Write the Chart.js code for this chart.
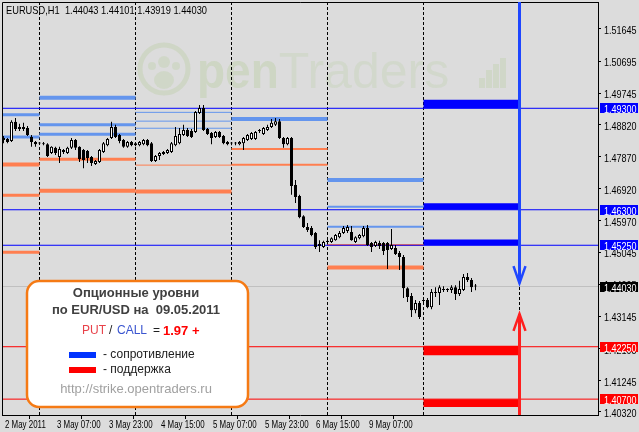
<!DOCTYPE html>
<html>
<head>
<meta charset="utf-8">
<script src="https://cdn.jsdelivr.net/npm/chart.js@4.4.1/dist/chart.umd.min.js"></script>
<style>
html, body { margin: 0; padding: 0; background: #dcdcdc; }
#wrap { width: 639px; height: 432px; }
</style>
</head>
<body>
<div id="wrap"><canvas id="chart" width="639" height="432"></canvas></div>
<script>
// EURUSD H1 candles, bar index 0 = first visible bar
const open = [1.4836,1.4839,1.4833,1.4890,1.4869,1.4875,1.4872,1.4845,1.4830,1.4827,
  1.4826,1.4824,1.4798,1.4813,1.4786,1.4801,1.4798,1.4813,1.4836,1.4816,
  1.4807,1.4804,1.4786,1.4765,1.4771,1.4801,1.4821,1.4842,1.4875,1.4851,
  1.4836,1.4816,1.4830,1.4821,1.4821,1.4824,1.4836,1.4827,1.4774,1.4789,
  1.4795,1.4798,1.4801,1.4821,1.4827,1.4851,1.4866,1.4863,1.4860,1.4916,
  1.4931,1.4869,1.4857,1.4845,1.4860,1.4848,1.4830,1.4827,1.4826,1.4824,
  1.4827,1.4836,1.4839,1.4839,1.4863,1.4854,1.4866,1.4875,1.4881,1.4892,
  1.4842,1.4824,1.4842,1.4703,1.4671,1.4611,1.4579,1.4576,1.4561,1.4529,
  1.4520,1.4535,1.4535,1.4540,1.4549,1.4561,1.4567,1.4564,1.4535,1.4546,
  1.4552,1.4576,1.4532,1.4523,1.4532,1.4532,1.4532,1.4514,1.4517,1.4502,
  1.4490,1.4398,1.4375,1.4333,1.4354,1.4363,1.4363,1.4342,1.4387,1.4384,
  1.4396,1.4393,1.4393,1.4401,1.4381,1.4393,1.4431,1.4422,1.44043];
const high = [1.4848,1.4842,1.4895,1.4901,1.4884,1.4887,1.4878,1.4851,1.4833,1.4830,
  1.4830,1.4827,1.4818,1.4816,1.4816,1.4810,1.4816,1.4842,1.4839,1.4818,
  1.4810,1.4807,1.4789,1.4777,1.4810,1.4830,1.4842,1.4890,1.4881,1.4854,
  1.4839,1.4833,1.4833,1.4830,1.4833,1.4839,1.4839,1.4830,1.4792,1.4801,
  1.4804,1.4810,1.4830,1.4875,1.4872,1.4881,1.4872,1.4869,1.4922,1.4940,
  1.4940,1.4872,1.4860,1.4863,1.4863,1.4851,1.4833,1.4830,1.4830,1.4833,
  1.4845,1.4854,1.4860,1.4863,1.4869,1.4875,1.4881,1.4898,1.4901,1.4898,
  1.4845,1.4845,1.4845,1.4718,1.4674,1.4614,1.4591,1.4582,1.4564,1.4540,
  1.4538,1.4543,1.4549,1.4558,1.4567,1.4582,1.4585,1.4582,1.4552,1.4558,
  1.4582,1.4585,1.4535,1.4538,1.4538,1.4535,1.4535,1.4573,1.4526,1.4508,
  1.4496,1.4401,1.4384,1.4363,1.4360,1.4372,1.4369,1.4396,1.4401,1.4407,
  1.4404,1.4398,1.4407,1.4407,1.4420,1.4440,1.4443,1.4428,1.44101];
const low = [1.4827,1.4827,1.4830,1.4863,1.4863,1.4863,1.4848,1.4816,1.4816,1.4824,
  1.4821,1.4786,1.4795,1.4792,1.4768,1.4795,1.4795,1.4810,1.4807,1.4771,
  1.4753,1.4768,1.4759,1.4762,1.4768,1.4798,1.4818,1.4839,1.4842,1.4827,
  1.4813,1.4813,1.4818,1.4818,1.4818,1.4821,1.4818,1.4771,1.4771,1.4777,
  1.4792,1.4795,1.4798,1.4818,1.4824,1.4848,1.4845,1.4842,1.4857,1.4913,
  1.4863,1.4851,1.4824,1.4842,1.4842,1.4824,1.4821,1.4821,1.4821,1.4821,
  1.4807,1.4833,1.4836,1.4836,1.4857,1.4851,1.4863,1.4872,1.4878,1.4839,
  1.4813,1.4821,1.4674,1.4650,1.4605,1.4576,1.4564,1.4552,1.4514,1.4505,
  1.4517,1.4529,1.4532,1.4538,1.4546,1.4558,1.4561,1.4538,1.4532,1.4543,
  1.4549,1.4523,1.4505,1.4520,1.4514,1.4496,1.4455,1.4511,1.4496,1.4452,
  1.4369,1.4357,1.4313,1.4324,1.4307,1.4354,1.4339,1.4336,1.4372,1.4348,
  1.4387,1.4387,1.4384,1.4363,1.4375,1.4390,1.4416,1.4387,1.43919];
const close = [1.4842,1.4830,1.4890,1.4869,1.4875,1.4869,1.4851,1.4830,1.4824,1.4826,
  1.4824,1.4789,1.4816,1.4798,1.4810,1.4807,1.4813,1.4836,1.4813,1.4780,
  1.4777,1.4783,1.4768,1.4774,1.4807,1.4827,1.4839,1.4875,1.4845,1.4833,
  1.4816,1.4830,1.4821,1.4827,1.4830,1.4836,1.4821,1.4774,1.4789,1.4798,
  1.4801,1.4807,1.4827,1.4848,1.4854,1.4866,1.4848,1.4845,1.4919,1.4931,
  1.4866,1.4854,1.4842,1.4860,1.4845,1.4827,1.4824,1.4826,1.4827,1.4830,
  1.4842,1.4851,1.4857,1.4860,1.4866,1.4872,1.4875,1.4887,1.4892,1.4842,
  1.4824,1.4842,1.4700,1.4668,1.4608,1.4579,1.4570,1.4555,1.4520,1.4523,
  1.4535,1.4538,1.4546,1.4555,1.4561,1.4576,1.4579,1.4540,1.4549,1.4555,
  1.4576,1.4526,1.4520,1.4535,1.4523,1.4508,1.4511,1.4526,1.4499,1.4490,
  1.4398,1.4372,1.4333,1.4354,1.4313,1.4360,1.4342,1.4387,1.4384,1.4401,
  1.4393,1.4396,1.4401,1.4381,1.4396,1.4431,1.4422,1.4401,1.44030];

// bar index where each trading day starts (dotted separators)
const dayStart = [9, 33, 57, 81, 105, 129];

// option levels per day: CALL (resistance) and PUT (support), with relative open interest
const callLevels = [[1.4911, 1.4845], [1.4961, 1.4881, 1.4853], [1.4918, 1.4892, 1.4871], [1.4898], [1.4718, 1.4639, 1.4580]];
const callOI     = [[3, 3], [4, 3, 3], [1, 1, 1], [4], [4, 2, 2]];
const putLevels  = [[1.4764, 1.4673, 1.4504], [1.4779, 1.4686], [1.4762, 1.4684], [1.4810, 1.4763], [1.4526, 1.4459]];
const putOI      = [[4, 3, 3], [3, 4], [1, 4], [2, 2], [2, 4]];

// levels for 09.05.2011
const callBands = [[1.4930, 1.4955], [1.4630, 1.4649], [1.4525, 1.4542]];
const putBands  = [[1.4200, 1.4228], [1.4047, 1.4070]];
const keyCall = [1.4930, 1.4630, 1.4525];
const keyPut  = [1.4225, 1.4070];
const lastBid = 1.4403;
const callArrowTip = 1.4413;
const putArrowTip  = 1.4322;

const yTicks = [1.51645, 1.50695, 1.49745, 1.48820, 1.47870, 1.46920, 1.45970, 1.45045, 1.44095, 1.43145, 1.42195, 1.41245, 1.40320];
const timeTickBars = [0, 13, 26, 39, 52, 65, 78, 91];
const timeLabels = ['2 May 2011', '3 May 07:00', '3 May 23:00', '4 May 15:00', '5 May 07:00', '5 May 23:00', '6 May 15:00', '9 May 07:00'];
const header = 'EURUSD,H1  1.44043 1.44101 1.43919 1.44030';

const X_MIN = -0.375, X_MAX = 148.625;
const Y_MIN = 1.40231, Y_MAX = 1.52443;
const ARIAL = "'Liberation Sans', Arial, sans-serif";

const LIGHT_BLUE = '#6495ED';
const CORAL = '#FF7F50';

function dayRange(d) {
  return [d === 0 ? X_MIN : dayStart[d - 1], dayStart[d]];
}

const datasets = [];

datasets.push({
  type: 'bar',
  data: open.map((o, i) => ({ x: i, y: [o, close[i]] })),
  backgroundColor: open.map((o, i) => close[i] >= o ? '#ffffff' : '#000000'),
  borderColor: '#000000',
  borderWidth: 1,
  borderSkipped: false,
  inflateAmount: 0,
  barThickness: 3,
  minBarLength: 1,
  grouped: false,
  order: 0
});
datasets.push({
  type: 'bar',
  data: open.map((o, i) => ({ x: i, y: [low[i], high[i]] })),
  backgroundColor: '#000000',
  borderWidth: 0,
  inflateAmount: 0,
  barThickness: 1,
  grouped: false,
  order: 1
});

function levelSets(levels, oi, color) {
  levels.forEach((arr, d) => {
    const [a, b] = dayRange(d);
    arr.forEach((v, j) => {
      datasets.push({
        type: 'line',
        data: [{ x: a, y: v }, { x: b, y: v }],
        borderColor: color,
        borderWidth: oi[d][j],
        pointRadius: 0,
        order: 3
      });
    });
  });
}
levelSets(callLevels, callOI, LIGHT_BLUE);
levelSets(putLevels, putOI, CORAL);

const [fa, fb] = dayRange(5);
datasets.push({
  type: 'bar',
  data: callBands.map(b => ({ x: (fa + fb) / 2, y: b })),
  backgroundColor: '#0000FF',
  barThickness: 96,
  inflateAmount: 0,
  grouped: false,
  order: 3
});
datasets.push({
  type: 'bar',
  data: putBands.map(b => ({ x: (fa + fb) / 2, y: b })),
  backgroundColor: '#FF0000',
  barThickness: 96,
  inflateAmount: 0,
  grouped: false,
  order: 3
});

function fullLine(v, color) {
  datasets.push({
    type: 'line',
    data: [{ x: X_MIN, y: v }, { x: X_MAX, y: v }],
    borderColor: color,
    borderWidth: 1,
    pointRadius: 0,
    order: 2
  });
}
keyCall.forEach(v => fullLine(v, '#0000FF'));
keyPut.forEach(v => fullLine(v, '#FF0000'));
fullLine(lastBid, '#C0C0C0');

function roundRect(ctx, x, y, w, h, r) {
  ctx.beginPath();
  ctx.moveTo(x + r, y);
  ctx.arcTo(x + w, y, x + w, y + h, r);
  ctx.arcTo(x + w, y + h, x, y + h, r);
  ctx.arcTo(x, y + h, x, y, r);
  ctx.arcTo(x, y, x + w, y, r);
  ctx.closePath();
}

// terminal-style narrow text
function narrowText(ctx, txt, x, y, sx) {
  ctx.save();
  ctx.translate(x, y);
  ctx.scale(sx, 1);
  ctx.fillText(txt, 0, 0);
  ctx.restore();
}

const mt4 = {
  id: 'mt4',
  beforeDatasetsDraw(chart) {
    const { ctx, chartArea: a, scales: { x } } = chart;
    ctx.save();
    // watermark
    ctx.fillStyle = 'rgba(150,190,100,0.16)';
    ctx.strokeStyle = 'rgba(150,190,100,0.18)';
    ctx.lineWidth = 5;
    ctx.beginPath(); ctx.arc(164, 69, 24, 0, Math.PI * 2); ctx.stroke();
    ctx.beginPath(); ctx.arc(164, 62, 6, 0, Math.PI * 2); ctx.fill();
    ctx.beginPath(); ctx.arc(152, 66, 4, 0, Math.PI * 2); ctx.fill();
    ctx.beginPath(); ctx.arc(176, 66, 4, 0, Math.PI * 2); ctx.fill();
    ctx.beginPath(); ctx.ellipse(164, 80, 10, 9, 0, 0, Math.PI * 2); ctx.fill();
    ctx.font = "bold 50px 'Liberation Sans', Arial, sans-serif";
    ctx.textBaseline = 'alphabetic';
    ctx.fillStyle = 'rgba(150,190,100,0.2)';
    narrowText(ctx, 'pen', 197, 88, 0.92);
    const w = ctx.measureText('pen').width * 0.92;
    ctx.font = "50px 'Liberation Sans', Arial, sans-serif";
    ctx.fillStyle = 'rgba(150,190,100,0.13)';
    ctx.fillText('Traders', 197 + w, 88);
    ctx.fillStyle = 'rgba(150,190,100,0.16)';
    [[479, 78], [486, 70], [493, 64], [500, 58]].forEach(([bx, by]) => ctx.fillRect(bx, by, 6, 88 - by));
    // day separators
    ctx.strokeStyle = '#000';
    ctx.lineWidth = 1;
    ctx.setLineDash([3, 2]);
    dayStart.forEach(k => {
      const px = Math.floor(x.getPixelForValue(k)) + 0.5;
      ctx.beginPath(); ctx.moveTo(px, a.top); ctx.lineTo(px, a.bottom); ctx.stroke();
    });
    ctx.restore();
  },
  afterDraw(chart) {
    const { ctx, chartArea: a, scales: { x, y } } = chart;
    ctx.save();
    // frame (left and top)
    ctx.strokeStyle = '#000'; ctx.lineWidth = 1;
    ctx.beginPath();
    ctx.moveTo(a.left + 0.5, a.bottom); ctx.lineTo(a.left + 0.5, a.top + 0.5); ctx.lineTo(a.right, a.top + 0.5);
    ctx.stroke();

    // arrows
    const ax = Math.floor(x.getPixelForValue(dayStart[5])) + 0.5;
    const tb = y.getPixelForValue(callArrowTip);
    const tr = y.getPixelForValue(putArrowTip);
    ctx.lineCap = 'butt';
    ctx.strokeStyle = '#1e46ff'; ctx.lineWidth = 3;
    ctx.beginPath(); ctx.moveTo(ax, a.top); ctx.lineTo(ax, tb); ctx.stroke();
    ctx.lineWidth = 2.5;
    ctx.beginPath(); ctx.moveTo(ax - 6, tb - 17); ctx.lineTo(ax, tb); ctx.lineTo(ax + 6, tb - 17); ctx.stroke();
    ctx.strokeStyle = '#ff1e1e'; ctx.lineWidth = 3;
    ctx.beginPath(); ctx.moveTo(ax, a.bottom); ctx.lineTo(ax, tr); ctx.stroke();
    ctx.lineWidth = 2.5;
    ctx.beginPath(); ctx.moveTo(ax - 6, tr + 17); ctx.lineTo(ax, tr); ctx.lineTo(ax + 6, tr + 17); ctx.stroke();

    // axis labels
    ctx.font = '11px ' + ARIAL;
    ctx.textBaseline = 'alphabetic';
    ctx.textAlign = 'left';
    ctx.fillStyle = '#000';
    yTicks.forEach(v => narrowText(ctx, v.toFixed(5), a.right + 6, Math.round(y.getPixelForValue(v)) + 4.5, 0.82));
    timeTickBars.forEach((k, i) => narrowText(ctx, timeLabels[i], Math.round(x.getPixelForValue(k)) + 1, 428, 0.72));

    // price tags on the right scale
    const tag = (v, bg) => {
      const py = Math.round(y.getPixelForValue(v));
      ctx.fillStyle = bg;
      ctx.fillRect(a.right + 2, py - 5, 38, 10);
      ctx.fillStyle = '#fff';
      narrowText(ctx, v.toFixed(5), a.right + 6, py + 4.5, 0.82);
    };
    keyCall.forEach(v => tag(v, '#0000FF'));
    keyPut.forEach(v => tag(v, '#FF0000'));
    tag(lastBid, '#000000');

    // header
    ctx.fillStyle = '#000';
    narrowText(ctx, header, 6, 13.5, 0.845);

    // info box
    ctx.fillStyle = '#fff';
    ctx.strokeStyle = '#f57a14';
    ctx.lineWidth = 2.5;
    roundRect(ctx, 27, 281, 221, 126, 12);
    ctx.fill(); ctx.stroke();
    const cx = 136;
    ctx.textBaseline = 'middle';
    ctx.textAlign = 'center';
    ctx.fillStyle = '#404040';
    ctx.font = 'bold 13px ' + ARIAL;
    ctx.fillText('Опционные уровни', cx, 293);
    ctx.fillText('по EUR/USD на  09.05.2011', cx, 310);
    ctx.textAlign = 'left';
    ctx.font = '12px ' + ARIAL;
    ctx.fillStyle = '#e8424a'; ctx.fillText('PUT', 82, 331);
    ctx.fillStyle = '#202020'; ctx.fillText('/', 109, 331);
    ctx.fillStyle = '#3a55d0'; ctx.fillText('CALL', 117, 331);
    ctx.fillStyle = '#202020'; ctx.fillText('=', 153, 331);
    ctx.font = 'bold 13px ' + ARIAL;
    ctx.fillStyle = '#ff0000'; ctx.fillText('1.97 +', 163, 331);
    ctx.fillStyle = '#0033ff'; ctx.fillRect(69, 352, 27, 6);
    ctx.fillStyle = '#ff0000'; ctx.fillRect(69, 367, 27, 6);
    ctx.font = '12px ' + ARIAL;
    ctx.fillStyle = '#202020';
    ctx.fillText('- сопротивление', 103, 355);
    ctx.fillText('- поддержка', 103, 370);
    ctx.font = '13px ' + ARIAL;
    ctx.fillStyle = '#a0a0a0';
    ctx.textAlign = 'center';
    ctx.fillText('http://strike.opentraders.ru', cx, 389);
    ctx.restore();
  }
};

new Chart(document.getElementById('chart'), {
  type: 'bar',
  data: { datasets: datasets },
  options: {
    responsive: false,
    animation: false,
    devicePixelRatio: 1,
    layout: { padding: { left: 2, top: 2, right: 0, bottom: 0 } },
    plugins: { legend: { display: false }, tooltip: { enabled: false } },
    scales: {
      x: {
        type: 'linear',
        min: X_MIN,
        max: X_MAX,
        offset: false,
        afterBuildTicks: s => { s.ticks = timeTickBars.map(v => ({ value: v })); },
        afterFit: s => { s.height = 17; },
        ticks: { display: false, autoSkip: false, maxRotation: 0 },
        grid: { drawOnChartArea: false, drawTicks: true, tickLength: 4, color: '#000' },
        border: { display: true, color: '#000' }
      },
      y: {
        position: 'right',
        min: Y_MIN,
        max: Y_MAX,
        afterBuildTicks: s => { s.ticks = yTicks.map(v => ({ value: v })); },
        afterFit: s => { s.width = 41; },
        ticks: { display: false, autoSkip: false },
        grid: { drawOnChartArea: false, drawTicks: true, tickLength: 3, color: '#000' },
        border: { display: true, color: '#000' }
      }
    }
  },
  plugins: [mt4]
});
</script>
</body>
</html>
